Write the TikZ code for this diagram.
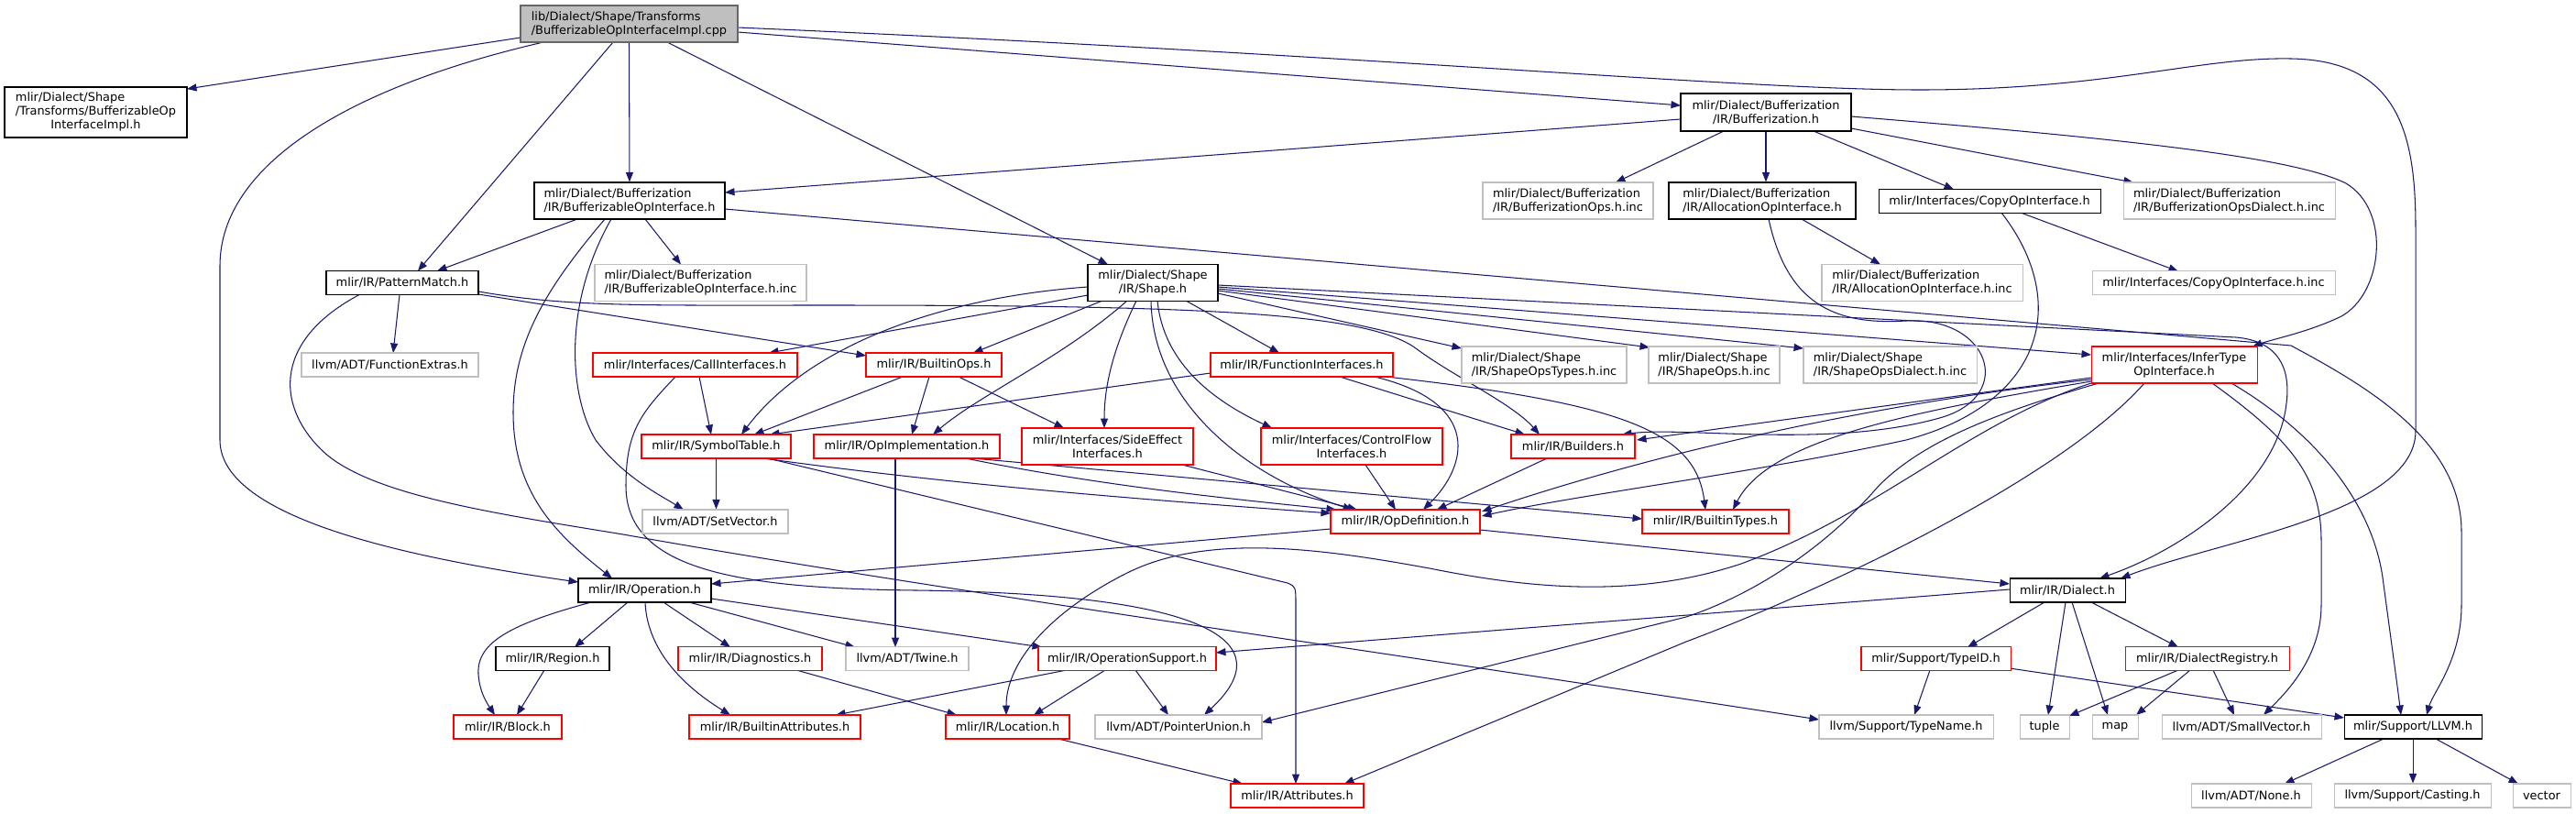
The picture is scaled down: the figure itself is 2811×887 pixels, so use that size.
\documentclass[tikz,border=0pt]{standalone}
\usepackage{fontspec}
\setmainfont{DejaVu Sans}
\usetikzlibrary{arrows.meta,calc,backgrounds}
\definecolor{edgec}{HTML}{191970}
\definecolor{grayc}{HTML}{BFBFBF}
\definecolor{redc}{HTML}{FF0000}
\definecolor{rootb}{HTML}{666666}
\tikzset{
  nb/.style={draw, rectangle, inner sep=0pt, line width=1.05pt, fill=white, text=black, font=\fontsize{12.9}{15}\selectfont},
  blk/.style={nb, draw=black},
  gry/.style={nb, draw=grayc},
  rd/.style={nb, draw=redc},
  rootn/.style={nb, draw=rootb, fill=grayc, align=left},
  sz/.style 2 args={minimum width=#1pt, minimum height=#2pt},
  edg/.style={draw=edgec, line width=1.05pt, -{Triangle[length=10.5pt,width=8pt]}},
}
\begin{document}
\begin{tikzpicture}[x=1pt,y=-1pt]
\useasboundingbox (0,0) rectangle (2811,887);
% nodes
\node[rootn, sz={237}{40}] (root) at (686.5,26) {lib/Dialect/Shape/Transforms\\/BufferizableOpInterfaceImpl.cpp};
\node[blk, sz={199}{55}] (implh) at (104.5,122.5) {\begin{tabular}{@{}l@{}}mlir/Dialect/Shape\\/Transforms/BufferizableOp\\\multicolumn{1}{@{}c@{}}{InterfaceImpl.h}\end{tabular}};
\node[blk, align=left, sz={208}{40}] (boi) at (687,219) {mlir/Dialect/Bufferization\\/IR/BufferizableOpInterface.h};
\node[blk, sz={166}{26}] (pm) at (439,308.5) {mlir/IR/PatternMatch.h};
\node[gry, align=left, sz={231}{40}] (boiinc) at (764.5,308.5) {mlir/Dialect/Bufferization\\/IR/BufferizableOpInterface.h.inc};
\node[gry, sz={193}{26}] (fe) at (425.5,398) {llvm/ADT/FunctionExtras.h};
\node[rd, sz={223}{26}] (call) at (758.5,398) {mlir/Interfaces/CallInterfaces.h};
\node[blk, align=center, sz={186}{41}] (bufh) at (1927,122.5) {mlir/Dialect/Bufferization\\/IR/Bufferization.h};
\node[gry, align=left, sz={186}{40}] (bopsinc) at (1711,219) {mlir/Dialect/Bufferization\\/IR/BufferizationOps.h.inc};
\node[blk, align=left, sz={204}{40}] (alloc) at (1923,219) {mlir/Dialect/Bufferization\\/IR/AllocationOpInterface.h};
\node[blk, sz={242}{26}] (copy) at (2171,219.5) {mlir/Interfaces/CopyOpInterface.h};
\node[gry, align=left, sz={231}{40}] (bodinc) at (2432.5,219) {mlir/Dialect/Bufferization\\/IR/BufferizationOpsDialect.h.inc};
\node[gry, align=left, sz={219}{40}] (allocinc) at (2097.5,308.5) {mlir/Dialect/Bufferization\\/IR/AllocationOpInterface.h.inc};
\node[gry, sz={265}{26}] (copyinc) at (2415.5,308.5) {mlir/Interfaces/CopyOpInterface.h.inc};
\node[blk, align=center, sz={142}{40}] (shape) at (1258,308.5) {mlir/Dialect/Shape\\/IR/Shape.h};
\node[rd, sz={148}{26}] (bops) at (1019,398) {mlir/IR/BuiltinOps.h};
\node[rd, sz={199}{26}] (fi) at (1420.5,398) {mlir/IR/FunctionInterfaces.h};
\node[gry, align=left, sz={180}{40}] (sotinc) at (1685,398) {mlir/Dialect/Shape\\/IR/ShapeOpsTypes.h.inc};
\node[gry, align=left, sz={143}{40}] (soinc) at (1870.5,398) {mlir/Dialect/Shape\\/IR/ShapeOps.h.inc};
\node[gry, align=left, sz={189}{40}] (sodinc) at (2062.5,398) {mlir/Dialect/Shape\\/IR/ShapeOpsDialect.h.inc};
\node[rd, align=center, sz={181}{40}] (infer) at (2372.5,398) {mlir/Interfaces/InferType\\OpInterface.h};
\node[rd, sz={163}{26}] (st) at (781.5,487) {mlir/IR/SymbolTable.h};
\node[rd, sz={203}{26}] (opimpl) at (989.5,487) {mlir/IR/OpImplementation.h};
\node[rd, align=center, sz={187}{40}] (se) at (1208.5,487) {mlir/Interfaces/SideEffect\\Interfaces.h};
\node[rd, align=center, sz={198}{40}] (cf) at (1475,487) {mlir/Interfaces/ControlFlow\\Interfaces.h};
\node[rd, sz={135}{26}] (builders) at (1716.5,487) {mlir/IR/Builders.h};
\node[gry, sz={159}{26}] (setvec) at (780.5,569) {llvm/ADT/SetVector.h};
\node[rd, sz={163}{26}] (opdef) at (1533.5,569) {mlir/IR/OpDefinition.h};
\node[rd, sz={160}{26}] (btypes) at (1872,569) {mlir/IR/BuiltinTypes.h};
\node[blk, sz={145}{26}] (op) at (703.5,644) {mlir/IR/Operation.h};
\node[blk, sz={126}{26}] (dialect) at (2256,644) {mlir/IR/Dialect.h};
\node[blk, sz={124}{26}] (region) at (603,718.5) {mlir/IR/Region.h};
\node[rd, sz={157}{26}] (diag) at (818.5,718.5) {mlir/IR/Diagnostics.h};
\node[gry, sz={134}{26}] (twine) at (990,718.5) {llvm/ADT/Twine.h};
\node[rd, sz={194}{26}] (opsup) at (1230,718.5) {mlir/IR/OperationSupport.h};
\node[rd, sz={163}{26}] (typeid) at (2112.5,718.5) {mlir/Support/TypeID.h};
\node[rd, sz={179}{26}] (dreg) at (2408.5,718.5) {mlir/IR/DialectRegistry.h};
\node[rd, sz={118}{26}] (block) at (554,793) {mlir/IR/Block.h};
\node[rd, sz={187}{26}] (battr) at (845.5,793) {mlir/IR/BuiltinAttributes.h};
\node[rd, sz={135}{26}] (loc) at (1099.5,793) {mlir/IR/Location.h};
\node[gry, sz={182}{26}] (pu) at (1286,793) {llvm/ADT/PointerUnion.h};
\node[gry, sz={190}{26}] (typename) at (2080,793) {llvm/Support/TypeName.h};
\node[gry, sz={54}{26}] (tuple) at (2231,793) {tuple};
\node[gry, sz={50}{26}] (mapn) at (2308,793) {map};
\node[gry, sz={174}{26}] (sv) at (2446,793) {llvm/ADT/SmallVector.h};
\node[blk, sz={150}{26}] (llvm) at (2633,793) {mlir/Support/LLVM.h};
\node[rd, sz={145}{26}] (attr) at (1415.5,868) {mlir/IR/Attributes.h};
\node[gry, sz={131}{26}] (nonen) at (2456.5,868) {llvm/ADT/None.h};
\node[gry, sz={171}{26}] (casting) at (2632.5,868) {llvm/Support/Casting.h};
\node[gry, sz={63}{26}] (vectorn) at (2773.5,868) {vector};
% edges
\begin{scope}[on background layer]
\fill[white] (0,0) rectangle (2811,887);
% root
\draw[edg] ($(root)+(-118.5,15)$) -- ($(implh)+(99.5,-25.5)$);
\draw[edg] ($(root)+(-93.5,20)$) .. controls (380,95) and (240,180) .. (240,290) -- (240,480) .. controls (240,560) and (420,605) .. ($(op)+(-72.5,-9)$);
\draw[edg] ($(root)+(-17.5,20)$) -- ($(pm)+(17,-13)$);
\draw[edg] (root.south) -- (boi.north);
\draw[edg] ($(root)+(41.5,20)$) -- ($(shape)+(-49,-20)$);
\draw[edg] ($(root)+(118.5,9)$) -- ($(bufh)+(-93,-7.5)$);
\draw[edg] ($(root)+(118.5,4)$) .. controls (1500,60) and (1900,98) .. (2095,98) .. controls (2300,98) and (2400,62) .. (2500,64) .. controls (2620,66) and (2636,150) .. (2636,250) -- (2636,470) .. controls (2636,560) and (2420,590) .. ($(dialect)+(58,-13)$);
% bufferization.h
\draw[edg] ($(bufh)+(-93,7.5)$) -- ($(boi)+(104,-9)$);
\draw[edg] ($(bufh)+(-46,20.5)$) -- ($(bopsinc)+(52,-20)$);
\draw[edg] (bufh.south) -- (bufh.south |- alloc.north);
\draw[edg] ($(bufh)+(52,20.5)$) -- ($(copy)+(-39,-13)$);
\draw[edg] ($(bufh)+(93,17.5)$) -- ($(bodinc)+(-104.5,-20)$);
\draw[edg] ($(bufh)+(93,4.5)$) .. controls (2300,150) and (2500,170) .. (2560,200) .. controls (2610,230) and (2600,320) .. (2555,345) .. controls (2520,362) and (2480,370) .. ($(infer)+(85.5,-20)$);
% bufferizable op interface
\draw[edg] ($(boi)+(-57,20)$) -- ($(pm)+(38,-13)$);
\draw[edg] ($(boi)+(17,20)$) -- ($(boiinc)+(-21.5,-20)$);
\draw[edg] ($(boi)+(-27,20)$) .. controls (600,310) and (560,370) .. (560,450) .. controls (560,540) and (610,585) .. ($(op)+(-35.5,-13)$);
\draw[edg] ($(boi)+(-20,20)$) .. controls (615,330) and (620,430) .. (650,480) .. controls (680,520) and (720,540) .. ($(setvec)+(-34.5,-13)$);
\draw[edg] ($(boi)+(104,9)$) -- (2500,377) .. controls (2580,420) and (2686,480) .. (2686,580) -- (2686,660) .. controls (2686,720) and (2655,755) .. ($(llvm)+(15,-13)$);
% pattern match
\draw[edg] ($(pm)+(-3,13)$) -- ($(fe)+(3.5,-13)$);
\draw[edg] ($(pm)+(83,12.5)$) -- ($(bops)+(-74,-10)$);
\draw[edg] ($(pm)+(83,9.5)$) .. controls (620,335) and (700,333) .. (900,333) .. controls (1300,333) and (1490,340) .. (1545,380) .. controls (1585,410) and (1650,440) .. ($(builders)+(-36.5,-13)$);
\draw[edg] ($(pm)+(-46,12.5)$) .. controls (300,370) and (300,440) .. (350,490) .. controls (400,540) and (540,560) .. (680,583) .. controls (1000,640) and (1500,710) .. ($(typename)+(-95,-8)$);
% call interfaces
\draw[edg] ($(call)+(4.5,13)$) -- ($(st)+(-5.5,-13)$);
\draw[edg] ($(call)+(-21.5,13)$) .. controls (700,450) and (683,470) .. (683,530) .. controls (683,620) and (800,642) .. (1000,644) .. controls (1320,648) and (1400,700) .. ($(pu)+(28,-13)$);
% shape.h
\draw[edg] ($(shape)+(-71,13.5)$) -- ($(call)+(80.5,-13)$);
\draw[edg] ($(shape)+(-71,4.5)$) .. controls (1020,325) and (880,380) .. ($(st)+(27.5,-13)$);
\draw[edg] ($(shape)+(-55,19.5)$) -- ($(bops)+(43,-13)$);
\draw[edg] ($(shape)+(-28,19.5)$) .. controls (1160,390) and (1070,430) .. ($(opimpl)+(28.5,-13)$);
\draw[edg] ($(shape)+(-18,19.5)$) .. controls (1215,380) and (1205,420) .. ($(se)+(-3.5,-20)$);
\draw[edg] ($(shape)+(-2,19.5)$) .. controls (1258,440) and (1360,520) .. ($(opdef)+(-57.5,-13)$);
\draw[edg] ($(shape)+(5,19.5)$) .. controls (1270,400) and (1330,440) .. ($(cf)+(-87,-20)$);
\draw[edg] ($(shape)+(36,19.5)$) -- ($(fi)+(-24.5,-13)$);
\draw[edg] ($(shape)+(71,11.5)$) -- ($(sotinc)+(-90,-18)$);
\draw[edg] ($(shape)+(71,8.5)$) -- ($(soinc)+(-70.5,-19)$);
\draw[edg] ($(shape)+(71,6.5)$) -- ($(sodinc)+(-94.5,-18)$);
\draw[edg] ($(shape)+(71,4.5)$) -- ($(infer)+(-90.5,-11)$);
\draw[edg] ($(shape)+(71,2.5)$) -- (2440,368) .. controls (2485,372) and (2500,400) .. (2495,440) .. controls (2485,530) and (2380,600) .. ($(dialect)+(35,-13)$);
% builtin ops
\draw[edg] ($(bops)+(-34,13)$) -- ($(st)+(41.5,-13)$);
\draw[edg] ($(bops)+(-5,13)$) -- ($(opimpl)+(5.5,-13)$);
\draw[edg] ($(bops)+(27,13)$) -- ($(se)+(-47.5,-20)$);
% function interfaces
\draw[edg] ($(fi)+(-99.5,9)$) -- ($(st)+(58.5,-13)$);
\draw[edg] ($(fi)+(79.5,13)$) .. controls (1620,440) and (1600,510) .. ($(opdef)+(19.5,-13)$);
\draw[edg] ($(fi)+(41.5,13)$) -- ($(builders)+(-52.5,-13)$);
\draw[edg] ($(fi)+(92.5,13)$) .. controls (1770,440) and (1850,470) .. ($(btypes)+(-11,-13)$);
% op implementation
\draw[edg] ($(opimpl)+(-12.5,13)$) -- ($(twine)+(-13,-12.5)$);
\draw[edg] ($(opimpl)+(64.5,13)$) .. controls (1200,530) and (1350,545) .. ($(opdef)+(-75.5,-13)$);
\draw[edg] ($(opimpl)+(72.5,13)$) -- ($(btypes)+(-80,-3)$);
% interfaces / builders
\draw[edg] ($(se)+(81.5,20)$) -- ($(opdef)+(-52.5,-13)$);
\draw[edg] ($(cf)+(15,20)$) -- ($(opdef)+(-10.5,-13)$);
\draw[edg] ($(builders)+(-28.5,13)$) -- ($(opdef)+(34.5,-13)$);
% symbol table
\draw[edg] (st.south) -- (st.south |- setvec.north);
\draw[edg] ($(st)+(51.5,13)$) .. controls (1050,530) and (1250,545) .. ($(opdef)+(-81.5,-9)$);
\draw[edg] ($(st)+(56.5,13)$) -- (1405,636) .. controls (1414,640) .. (1414,660) -- ($(attr)+(-1.5,-13)$);
% op definition
\draw[edg] ($(opdef)+(-81.5,8)$) -- ($(op)+(72.5,-7)$);
\draw[edg] ($(opdef)+(81.5,9)$) -- ($(dialect)+(-63,-7)$);
% operation
\draw[edg] ($(op)+(-58.5,13)$) .. controls (560,680) and (520,700) .. (522,735) .. controls (523,755) and (532,768) .. ($(block)+(-14,-13)$);
\draw[edg] ($(op)+(-18.5,13)$) -- ($(region)+(24,-12.5)$);
\draw[edg] ($(op)+(0.5,13)$) .. controls (706,705) and (740,745) .. ($(battr)+(-48.5,-13)$);
\draw[edg] ($(op)+(20.5,13)$) -- ($(diag)+(-21.5,-12.5)$);
\draw[edg] ($(op)+(48.5,13)$) -- ($(twine)+(-57,-12.5)$);
\draw[edg] ($(op)+(72.5,9)$) -- ($(opsup)+(-93,-12.5)$);
% lower left
\draw[edg] ($(region)+(-9,12.5)$) -- ($(block)+(10,-13)$);
\draw[edg] ($(diag)+(50.5,12.5)$) -- ($(loc)+(-55.5,-13)$);
\draw[edg] ($(opsup)+(-66,12.5)$) -- ($(battr)+(66.5,-13)$);
\draw[edg] ($(opsup)+(-24,12.5)$) -- ($(loc)+(28.5,-13)$);
\draw[edg] ($(opsup)+(9,12.5)$) -- ($(pu)+(-11,-13)$);
\draw[edg] ($(loc)+(55.5,13)$) -- ($(attr)+(-59.5,-13)$);
% alloc / copy
\draw[edg] ($(alloc)+(43,20)$) -- ($(allocinc)+(-45.5,-20)$);
\draw[edg] ($(copy)+(34,12.5)$) -- ($(copyinc)+(-38.5,-12.5)$);
\draw[edg] ($(alloc)+(7,20)$) .. controls (1950,330) and (2000,355) .. (2080,350) .. controls (2170,345) and (2200,430) .. (2120,455) .. controls (2000,490) and (1840,465) .. ($(builders)+(53.5,-13)$);
\draw[edg] ($(copy)+(13,12.5)$) .. controls (2260,330) and (2230,440) .. (2080,480) .. controls (1920,515) and (1720,540) .. ($(opdef)+(83.5,-6)$);
% infer type op interface
\draw[edg] ($(infer)+(-90.5,14)$) -- ($(builders)+(69.5,-7)$);
\draw[edg] ($(infer)+(-90.5,16)$) .. controls (2050,440) and (1820,490) .. ($(opdef)+(83.5,-11)$);
\draw[edg] ($(infer)+(-90.5,18)$) .. controls (2080,450) and (1930,480) .. ($(btypes)+(19,-13)$);
\draw[edg] ($(infer)+(-82.5,20)$) .. controls (2180,450) and (2100,480) .. (2050,530) .. controls (1990,600) and (1910,650) .. (1840,673) -- ($(pu)+(91,-5)$);
\draw[edg] ($(infer)+(-32.5,20)$) .. controls (2250,520) and (2000,640) .. (1840,700) -- ($(attr)+(51.5,-13)$);
\draw[edg] ($(infer)+(41.5,20)$) .. controls (2500,480) and (2533,520) .. (2533,590) -- (2533,660) .. controls (2533,720) and (2490,760) .. ($(sv)+(24,-13)$);
\draw[edg] ($(infer)+(62.5,20)$) .. controls (2540,480) and (2590,560) .. (2600,630) .. controls (2608,690) and (2615,740) .. ($(llvm)+(-13,-13)$);
\draw[edg] ($(infer)+(-90.5,20)$) .. controls (2150,460) and (2050,560) .. (1900,615) .. controls (1780,655) and (1660,640) .. (1560,620) .. controls (1450,600) and (1320,580) .. (1230,625) .. controls (1150,665) and (1098,720) .. ($(loc)+(-1.5,-13)$);
% dialect
\draw[edg] ($(dialect)+(-63,-1)$) -- ($(opsup)+(97,-6.5)$);
\draw[edg] ($(dialect)+(-25,13)$) -- ($(typeid)+(34.5,-12.5)$);
\draw[edg] ($(dialect)+(-2,13)$) -- ($(tuple)+(4,-13)$);
\draw[edg] ($(dialect)+(5,13)$) -- ($(mapn)+(-8,-13)$);
\draw[edg] ($(dialect)+(26,13)$) -- ($(dreg)+(-31.5,-12.5)$);
% type id / registry
\draw[edg] ($(typeid)+(-6.5,12.5)$) -- ($(typename)+(9,-13)$);
\draw[edg] ($(typeid)+(80.5,10.5)$) -- ($(llvm)+(-75,-10)$);
\draw[edg] ($(dreg)+(-31.5,12.5)$) -- ($(tuple)+(27,-12)$);
\draw[edg] ($(dreg)+(-18.5,12.5)$) -- ($(mapn)+(23,-13)$);
\draw[edg] ($(dreg)+(6.5,12.5)$) -- ($(sv)+(-8,-13)$);
% llvm
\draw[edg] ($(llvm)+(-32,13)$) -- ($(nonen)+(36.5,-13)$);
\draw[edg] (llvm.south) -- (llvm.south |- casting.north);
\draw[edg] ($(llvm)+(25,13)$) -- ($(vectorn)+(-25.5,-13)$);
\end{scope}
\end{tikzpicture}
\end{document}
